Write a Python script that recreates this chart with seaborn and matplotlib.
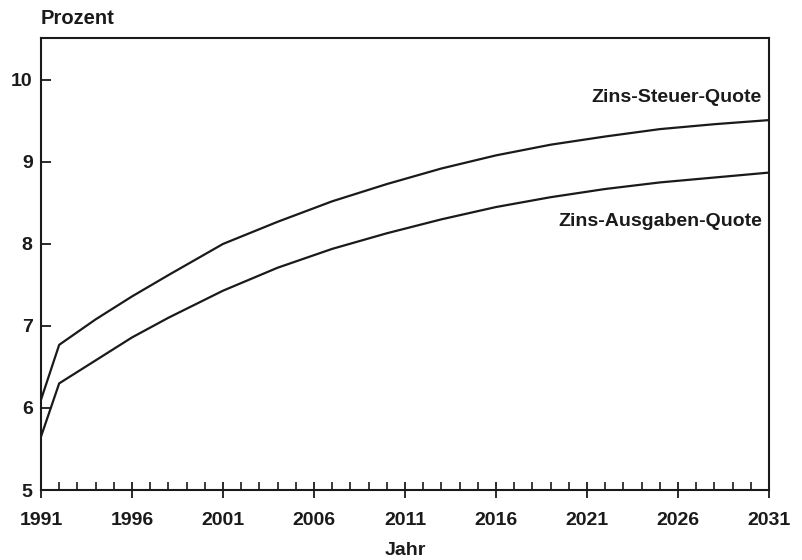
import pandas as pd
import numpy as np
import matplotlib
matplotlib.use("Agg")
import matplotlib.pyplot as plt
from matplotlib.ticker import MultipleLocator
import seaborn as sns

# Werte
jahre = [1991, 1992, 1994, 1996, 1998, 2001, 2004, 2007, 2010,
         2013, 2016, 2019, 2022, 2025, 2028, 2031]
zins_steuer = [6.10, 6.77, 7.08, 7.36, 7.62, 8.00, 8.27, 8.52, 8.73,
               8.92, 9.08, 9.21, 9.31, 9.40, 9.46, 9.51]
zins_ausgaben = [5.65, 6.30, 6.58, 6.86, 7.10, 7.43, 7.71, 7.94, 8.13,
                 8.30, 8.45, 8.57, 8.67, 8.75, 8.81, 8.87]
x_ticks = [1991, 1996, 2001, 2006, 2011, 2016, 2021, 2026, 2031]
y_ticks = [5, 6, 7, 8, 9, 10]

df = pd.DataFrame({
    "Jahr": jahre * 2,
    "Wert": zins_steuer + zins_ausgaben,
    "Reihe": ["Zins-Steuer-Quote"] * len(jahre) + ["Zins-Ausgaben-Quote"] * len(jahre),
})

sns.set_theme(style="white")
plt.rcParams["font.family"] = ["Liberation Sans", "DejaVu Sans"]
plt.rcParams["font.weight"] = "bold"

fig = plt.figure(figsize=(8.02, 5.6), dpi=100)
ax = fig.add_axes([0.0511, 0.125, 0.9078, 0.807])

sns.lineplot(data=df, x="Jahr", y="Wert", hue="Reihe",
             palette={"Zins-Steuer-Quote": "#1a1a1a", "Zins-Ausgaben-Quote": "#1a1a1a"},
             linewidth=1.6, legend=False, ax=ax)

ax.set_xlim(1991, 2031)
ax.set_ylim(5, 10.51)
ax.set_xticks(x_ticks)
ax.set_yticks(y_ticks)
ax.xaxis.set_minor_locator(MultipleLocator(1))

for side in ["left", "right", "top", "bottom"]:
    ax.spines[side].set_visible(True)
    ax.spines[side].set_color("#1a1a1a")
    ax.spines[side].set_linewidth(1.5)

ax.tick_params(axis="x", which="major", direction="inout", length=12, width=1.3,
               color="#1a1a1a", labelsize=14, labelcolor="#1a1a1a", pad=10, bottom=True)
ax.tick_params(axis="x", which="minor", direction="in", length=5.5, width=1.2,
               color="#1a1a1a", bottom=True)
ax.tick_params(axis="y", which="major", direction="in", length=7, width=1.3,
               color="#1a1a1a", labelsize=14, labelcolor="#1a1a1a", pad=6, left=True)
for lab in ax.get_xticklabels() + ax.get_yticklabels():
    lab.set_fontweight("bold")

ax.set_xlabel("Jahr", fontsize=14, fontweight="bold", color="#1a1a1a", labelpad=9)
ax.set_ylabel("")
ax.text(0.0, 1.022, "Prozent", transform=ax.transAxes, ha="left", va="bottom",
        fontsize=14.5, fontweight="bold", color="#1a1a1a")

ax.text(2030.6, 9.78, "Zins-Steuer-Quote", ha="right", va="center",
        fontsize=14, fontweight="bold", color="#1a1a1a")
ax.text(2030.6, 8.27, "Zins-Ausgaben-Quote", ha="right", va="center",
        fontsize=14, fontweight="bold", color="#1a1a1a")

plt.savefig("out.png", dpi=100)
plt.close()
